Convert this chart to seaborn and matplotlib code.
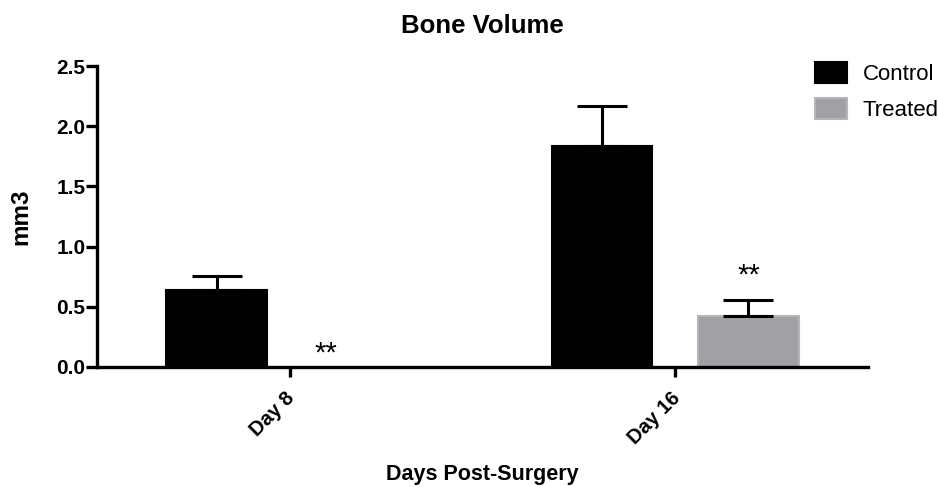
import pandas as pd
import matplotlib
matplotlib.use("Agg")
import matplotlib.pyplot as plt
import matplotlib.transforms as mtransforms
import seaborn as sns

# ---------------------------------------------------------------------------
# Data
# ---------------------------------------------------------------------------
days = ["Day 8", "Day 16"]
groups = ["Control", "Treated"]
control_mean = [0.64, 1.835]
control_sem = [0.115, 0.335]
treated_mean = [0.0, 0.42]
treated_sem = [0.0, 0.14]
colors = {"Control": "#000000", "Treated": "#a1a1a5"}
edges = {"Control": "#000000", "Treated": "#b6b6b6"}

df = pd.DataFrame({
    "day": days * 2,
    "group": ["Control"] * len(days) + ["Treated"] * len(days),
    "mean": control_mean + treated_mean,
})
sems = {"Control": control_sem, "Treated": treated_sem}

sns.set_style("ticks")
plt.rcParams["font.family"] = ["Liberation Sans", "DejaVu Sans"]
plt.rcParams.update({"text.color": "black", "axes.labelcolor": "black",
                     "xtick.color": "black", "ytick.color": "black",
                     "axes.edgecolor": "black"})

fig = plt.figure(figsize=(9.38, 4.87), dpi=100)
ax = fig.add_axes([97 / 938, 1 - 367 / 487, (868 - 97) / 938, (367 - 66) / 487])

sns.barplot(data=df, x="day", y="mean", hue="group", order=days,
            hue_order=groups, palette=colors, errorbar=None,
            width=0.76, gap=0.316, saturation=1, legend=False, ax=ax)

# ── one-sided error bars on top of each bar ────────────────────────────
for grp, cont in zip(groups, ax.containers):
    for bar, err in zip(cont, sems[grp]):
        bar.set_edgecolor(edges[grp])
        bar.set_linewidth(1.5)
        if err <= 0:
            continue
        cx = bar.get_x() + bar.get_width() / 2
        top = bar.get_height()
        ax.errorbar(cx, top, yerr=[[0], [err]], fmt="none", ecolor="black",
                    elinewidth=2.2, capsize=18, capthick=2.2, zorder=1)

# significance marks
ax.text(0.094, 0.108, "**", ha="center", va="center", fontsize=21)
ax.text(1.19, 0.756, "**", ha="center", va="center", fontsize=21)

ax.set_xlim(-0.5, 1.5)
ax.set_ylim(0, 2.5)
ax.set_yticks([0, 0.5, 1.0, 1.5, 2.0, 2.5])
ax.set_yticklabels(["0.0", "0.5", "1.0", "1.5", "2.0", "2.5"],
                   fontweight="bold", fontsize=15)
ax.set_xticks([0, 1])
ax.set_xticklabels(days, rotation=45, ha="right", rotation_mode="anchor",
                   fontweight="bold", fontsize=14.5)
ax.tick_params(axis="y", length=8, width=2.4, pad=0.3)
ax.tick_params(axis="x", length=7, width=2.4, pad=6)
shift = mtransforms.ScaledTranslation(-5 / 100, -3 / 100, fig.dpi_scale_trans)
for lbl in ax.get_xticklabels():
    lbl.set_transform(lbl.get_transform() + shift)

sns.despine(ax=ax)
for side in ["left", "bottom"]:
    ax.spines[side].set_linewidth(2.4)

ax.set_title("Bone Volume", fontsize=18.5, fontweight="bold", pad=24)
ax.set_ylabel("mm3", fontsize=17.5, fontweight="bold", labelpad=17)
ax.set_xlabel("Days Post-Surgery", fontsize=15.5, fontweight="bold", labelpad=12)

# ── legend ─────────────────────────────────────────────────────────────
handles = [plt.Rectangle((0, 0), 1, 1, facecolor=colors[g],
                         edgecolor=edges[g], linewidth=1.5) for g in groups]
fig.legend(handles, groups, loc="upper left",
           bbox_to_anchor=(806 / 938, 1 - 53 / 487), frameon=False,
           fontsize=16, handlelength=1.45, handleheight=1.05,
           handletextpad=0.7, labelspacing=0.6, borderaxespad=0)

fig.savefig("out.png", dpi=100)
